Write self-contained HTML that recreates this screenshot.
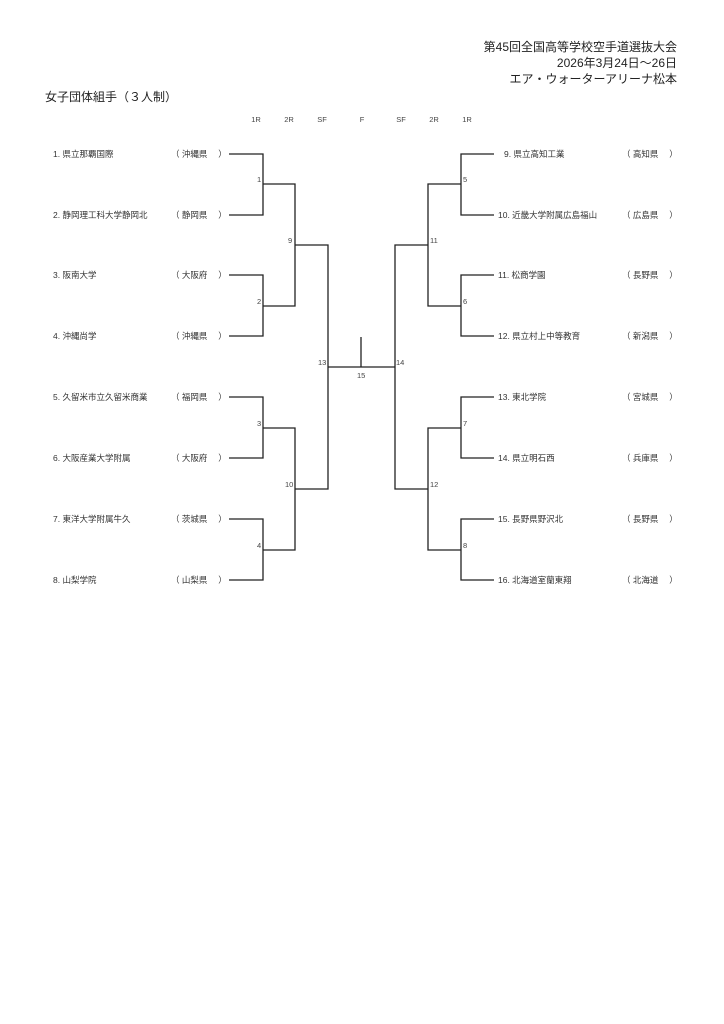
<!DOCTYPE html>
<html><head><meta charset="utf-8"><style>
html,body{margin:0;padding:0;background:#fff;}
svg{display:block;font-family:"Liberation Sans","Noto Sans CJK JP",sans-serif;}
.t{fill:#333;font-size:8.5px;}
.n{fill:#444;font-size:7.5px;}
</style></head><body>
<svg width="724" height="1024" viewBox="0 0 724 1024" xmlns="http://www.w3.org/2000/svg">
<g fill="#222" font-size="12" text-anchor="end">
<text x="677" y="51">第45回全国高等学校空手道選抜大会</text>
<text x="677" y="67">2026年3月24日～26日</text>
<text x="677" y="83">エア・ウォーターアリーナ松本</text>
</g>
<text x="45" y="101" font-size="12" fill="#222">女子団体組手（３人制）</text>
<g class="n" text-anchor="middle">
<text x="256" y="122">1R</text><text x="289" y="122">2R</text><text x="322" y="122">SF</text>
<text x="362" y="122">F</text><text x="401" y="122">SF</text><text x="434" y="122">2R</text><text x="467" y="122">1R</text>
</g>
<g class="t">
<text x="53" y="157">1. 県立那覇国際</text><text x="171" y="157">（ 沖縄県　 ）</text>
<text x="53" y="218">2. 静岡理工科大学静岡北</text><text x="171" y="218">（ 静岡県　 ）</text>
<text x="53" y="278">3. 阪南大学</text><text x="171" y="278">（ 大阪府　 ）</text>
<text x="53" y="339">4. 沖縄尚学</text><text x="171" y="339">（ 沖縄県　 ）</text>
<text x="53" y="400">5. 久留米市立久留米商業</text><text x="171" y="400">（ 福岡県　 ）</text>
<text x="53" y="461">6. 大阪産業大学附属</text><text x="171" y="461">（ 大阪府　 ）</text>
<text x="53" y="522">7. 東洋大学附属牛久</text><text x="171" y="522">（ 茨城県　 ）</text>
<text x="53" y="583">8. 山梨学院</text><text x="171" y="583">（ 山梨県　 ）</text>
<text x="504" y="157">9. 県立高知工業</text><text x="622" y="157">（ 高知県　 ）</text>
<text x="498" y="218">10. 近畿大学附属広島福山</text><text x="622" y="218">（ 広島県　 ）</text>
<text x="498" y="278">11. 松商学園</text><text x="622" y="278">（ 長野県　 ）</text>
<text x="498" y="339">12. 県立村上中等教育</text><text x="622" y="339">（ 新潟県　 ）</text>
<text x="498" y="400">13. 東北学院</text><text x="622" y="400">（ 宮城県　 ）</text>
<text x="498" y="461">14. 県立明石西</text><text x="622" y="461">（ 兵庫県　 ）</text>
<text x="498" y="522">15. 長野県野沢北</text><text x="622" y="522">（ 長野県　 ）</text>
<text x="498" y="583">16. 北海道室蘭東翔</text><text x="622" y="583">（ 北海道　 ）</text>
</g>
<g fill="none" stroke="#222" stroke-width="1.3">
<path d="M229 154H263V215H229M263 184H295V306H263M229 275H263V336H229"/>
<path d="M229 397H263V458H229M263 428H295V550H263M229 519H263V580H229"/>
<path d="M295 245H328V489H295M328 367H395M361 337V367"/>
<path d="M494 154H461V215H494M461 184H428V306H461M494 275H461V336H494"/>
<path d="M494 397H461V458H494M461 428H428V550H461M494 519H461V580H494"/>
<path d="M428 245H395V489H428"/>
</g>
<g class="n">
<text x="257" y="182">1</text><text x="257" y="304">2</text><text x="257" y="426">3</text><text x="257" y="548">4</text>
<text x="288" y="243">9</text><text x="285" y="487">10</text><text x="318" y="365">13</text>
<text x="357" y="378">15</text><text x="396" y="365">14</text>
<text x="463" y="182">5</text><text x="463" y="304">6</text><text x="463" y="426">7</text><text x="463" y="548">8</text>
<text x="430" y="243">11</text><text x="430" y="487">12</text>
</g>
</svg>
</body></html>
